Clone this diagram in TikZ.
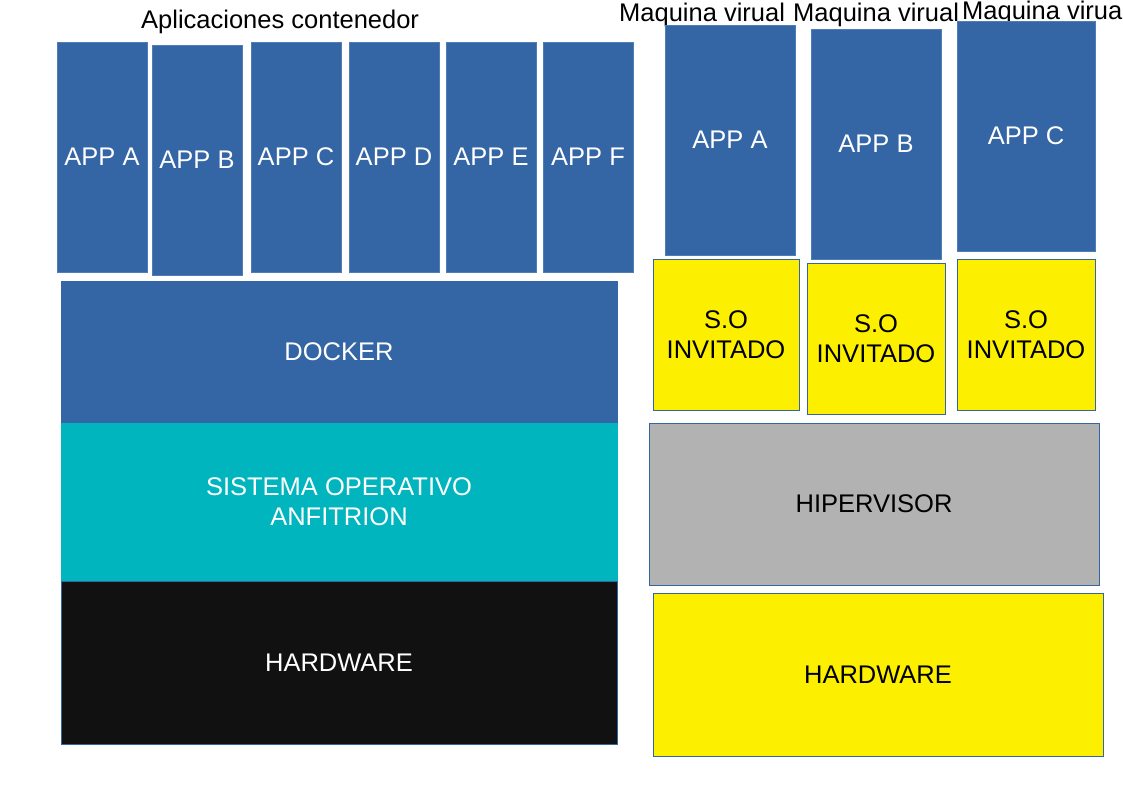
\documentclass[tikz,border=0pt]{standalone}
\usepackage{fontspec}
\setmainfont{Liberation Sans}
\definecolor{appblue}{HTML}{3465A4}
\definecolor{appedge}{HTML}{4F7DB8}
\definecolor{teal1}{HTML}{00B5BD}
\definecolor{hwblack}{HTML}{111111}
\definecolor{soyellow}{HTML}{FCEF00}
\definecolor{hipgray}{HTML}{B2B2B2}
\begin{document}
\begin{tikzpicture}[x=1pt,y=-1pt,
  box/.style={rectangle, inner sep=0pt, align=center, font=\fontsize{25.5}{30}\selectfont, line width=0.75pt},
  app/.style={box, fill=appblue, draw=appedge, text=white},
  layer/.style={box, text=white, minimum width=556pt},
  guest/.style={box, fill=soyellow, draw=appblue, text=black},
  label/.style={inner sep=0pt, anchor=base west, font=\fontsize{25.5}{30}\selectfont, text=black}]
\useasboundingbox (0,0) rectangle (1123,794);
\fill[white] (0,0) rectangle (1123,794);

% container side
\node[label] (tcont) at (141,29) {Aplicaciones contenedor};
\node[app, minimum width=90pt, minimum height=230pt] (ca) at (102,157) {APP A};
\node[app, minimum width=90pt, minimum height=230pt] (cb) at (197,160) {APP B};
\node[app, minimum width=90pt, minimum height=230pt] (cc) at (296,157) {APP C};
\node[app, minimum width=90pt, minimum height=230pt] (cd) at (394,157) {APP D};
\node[app, minimum width=90pt, minimum height=230pt] (ce) at (491,157) {APP E};
\node[app, minimum width=90pt, minimum height=230pt] (cf) at (588,157) {APP F};

\node[layer, fill=appblue, draw=appblue, minimum height=142pt] (docker) at (339,352) {DOCKER};
\node[layer, fill=teal1, draw=teal1, minimum height=158pt] (host) at (339,502) {SISTEMA OPERATIVO\\ANFITRION};
\node[layer, fill=hwblack, draw=appblue, minimum height=163pt] (hw1) at (339,662.5) {HARDWARE};

% virtual machine side
\node[label] (tvm1) at (619,22) {Maquina virual};
\node[label] (tvm2) at (793,22) {Maquina virual};
\node[label] (tvm3) at (962,19.5) {Maquina virua};

\node[app, minimum width=130pt, minimum height=230pt] (va) at (730,140) {APP A};
\node[app, minimum width=130pt, minimum height=230pt] (vb) at (876,144) {APP B};
\node[app, minimum width=138pt, minimum height=230pt] (vc) at (1026,136) {APP C};

\node[guest, minimum width=146pt, minimum height=151pt] (so1) at (726,334.5) {S.O\\INVITADO};
\node[guest, minimum width=138pt, minimum height=151pt] (so2) at (876,338.5) {S.O\\INVITADO};
\node[guest, minimum width=138pt, minimum height=151pt] (so3) at (1026,334.5) {S.O\\INVITADO};

\node[box, fill=hipgray, draw=appblue, text=black, minimum width=450pt, minimum height=162pt] (hip) at (874,504) {HIPERVISOR};
\node[guest, minimum width=450pt, minimum height=163pt] (hw2) at (878,674.5) {HARDWARE};
\end{tikzpicture}
\end{document}
